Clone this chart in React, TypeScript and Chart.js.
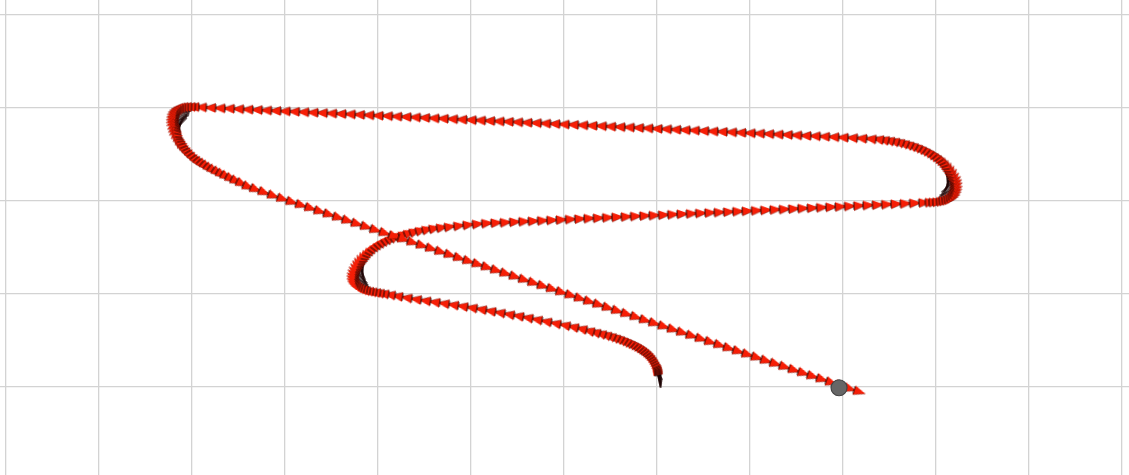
import React, { useEffect, useRef } from "react";
import { Chart, registerables } from "chart.js";

Chart.register(...registerables);

// Path poses in metres (odom frame), in time order (arrow-head centres).
const startCurve: number[][] = [
  [0, 0.19], [-0.002, 0.2], [-0.004, 0.21], [-0.007, 0.22], [-0.01, 0.23], [-0.014, 0.24], [-0.018, 0.25],
  [-0.026, 0.262], [-0.036, 0.274], [-0.048, 0.297], [-0.062, 0.319],
  [-0.078, 0.34], [-0.096, 0.36], [-0.116, 0.379], [-0.138, 0.397], [-0.162, 0.414], [-0.188, 0.43],
  [-0.216, 0.445], [-0.246, 0.46], [-0.278, 0.474], [-0.312, 0.488], [-0.348, 0.501], [-0.386, 0.514],
  [-0.426, 0.527], [-0.468, 0.539], [-0.512, 0.551], [-0.56, 0.563], [-0.615, 0.576], [-0.675, 0.59],
  [-0.74, 0.605],
];

const bottomRun: number[][] = [
  [-0.82, 0.626], [-0.91, 0.646], [-1.0, 0.665], [-1.1, 0.684], [-1.2, 0.705], [-1.3, 0.725], [-1.4, 0.745],
  [-1.5, 0.764], [-1.6, 0.781], [-1.7, 0.799], [-1.8, 0.817], [-1.9, 0.835], [-2.0, 0.852], [-2.1, 0.868],
  [-2.2, 0.883], [-2.3, 0.898], [-2.4, 0.913], [-2.5, 0.928], [-2.6, 0.943], [-2.7, 0.959], [-2.8, 0.977],
  [-2.88, 0.992],
];

const leftLoop: number[][] = [
  [-2.95, 1.004], [-3.0, 1.012], [-3.04, 1.019], [-3.08, 1.026], [-3.115, 1.033], [-3.15, 1.04], [-3.18, 1.05],
  [-3.21, 1.063], [-3.235, 1.078], [-3.255, 1.097], [-3.27, 1.118], [-3.279, 1.142], [-3.283, 1.168],
  [-3.282, 1.195], [-3.277, 1.222], [-3.268, 1.25], [-3.257, 1.278], [-3.243, 1.306], [-3.227, 1.333],
  [-3.208, 1.36], [-3.186, 1.386], [-3.162, 1.41], [-3.136, 1.436], [-3.107, 1.462], [-3.076, 1.485],
  [-3.043, 1.508], [-3.008, 1.53], [-2.972, 1.55], [-2.934, 1.569], [-2.894, 1.587], [-2.852, 1.604],
  [-2.808, 1.62], [-2.76, 1.635], [-2.71, 1.649], [-2.655, 1.662], [-2.595, 1.675], [-2.53, 1.687],
  [-2.46, 1.698], [-2.385, 1.708], [-2.305, 1.717],
];

const middleRun: number[][] = [
  [-2.22, 1.725], [-2.12, 1.735], [-2.02, 1.745], [-1.92, 1.754], [-1.82, 1.762], [-1.72, 1.767], [-1.62, 1.771],
  [-1.52, 1.776], [-1.42, 1.781], [-1.32, 1.785], [-1.22, 1.79], [-1.12, 1.795], [-1.02, 1.799], [-0.92, 1.804],
  [-0.82, 1.809], [-0.72, 1.814], [-0.62, 1.818], [-0.52, 1.823], [-0.42, 1.828], [-0.32, 1.832], [-0.22, 1.837],
  [-0.12, 1.842], [-0.02, 1.846], [0.08, 1.851], [0.18, 1.856], [0.28, 1.861], [0.38, 1.865], [0.48, 1.87],
  [0.58, 1.875], [0.68, 1.879], [0.78, 1.884], [0.88, 1.889], [0.98, 1.893], [1.08, 1.898], [1.18, 1.903],
  [1.28, 1.908], [1.38, 1.912], [1.48, 1.917], [1.58, 1.922], [1.68, 1.926], [1.78, 1.931], [1.88, 1.936],
  [1.98, 1.94], [2.08, 1.945], [2.18, 1.95], [2.28, 1.955], [2.38, 1.959], [2.48, 1.964], [2.58, 1.969],
  [2.68, 1.973], [2.78, 1.978], [2.88, 1.983],
];

const rightLoop: number[][] = [
  [2.95, 1.986], [2.99, 1.988], [3.03, 1.991], [3.07, 1.996], [3.1, 2.002], [3.13, 2.01], [3.155, 2.021],
  [3.178, 2.036], [3.197, 2.056], [3.211, 2.08], [3.221, 2.107], [3.226, 2.136], [3.228, 2.166], [3.225, 2.196],
  [3.217, 2.226], [3.205, 2.255], [3.189, 2.29], [3.17, 2.32], [3.148, 2.35], [3.124, 2.378], [3.098, 2.405],
  [3.07, 2.432], [3.04, 2.456], [3.008, 2.478], [2.974, 2.498], [2.938, 2.518], [2.9, 2.538], [2.86, 2.556],
  [2.82, 2.572], [2.778, 2.587], [2.734, 2.6], [2.688, 2.613], [2.64, 2.625], [2.59, 2.636], [2.538, 2.645],
  [2.484, 2.653], [2.428, 2.659], [2.37, 2.664],
];

const topRun: number[][] = [
  [2.29, 2.668], [2.19, 2.673], [2.09, 2.678], [1.99, 2.682], [1.89, 2.687], [1.79, 2.692], [1.69, 2.697],
  [1.59, 2.701], [1.49, 2.706], [1.39, 2.711], [1.29, 2.715], [1.19, 2.72], [1.09, 2.725], [0.99, 2.729],
  [0.89, 2.734], [0.79, 2.739], [0.69, 2.744], [0.59, 2.748], [0.49, 2.753], [0.39, 2.758], [0.29, 2.762],
  [0.19, 2.767], [0.09, 2.772], [-0.01, 2.776], [-0.11, 2.781], [-0.21, 2.786], [-0.31, 2.791], [-0.41, 2.795],
  [-0.51, 2.8], [-0.61, 2.805], [-0.71, 2.809], [-0.81, 2.814], [-0.91, 2.819], [-1.01, 2.823], [-1.11, 2.828],
  [-1.21, 2.833], [-1.31, 2.838], [-1.41, 2.842], [-1.51, 2.847], [-1.61, 2.852], [-1.71, 2.856], [-1.81, 2.861],
  [-1.91, 2.866], [-2.01, 2.87], [-2.11, 2.875], [-2.21, 2.88], [-2.31, 2.885], [-2.41, 2.889], [-2.51, 2.894],
  [-2.61, 2.899], [-2.71, 2.903], [-2.81, 2.908], [-2.91, 2.913], [-3.01, 2.917], [-3.11, 2.922], [-3.21, 2.927],
  [-3.31, 2.932], [-3.41, 2.936], [-3.51, 2.941], [-3.61, 2.946], [-3.71, 2.95], [-3.81, 2.955], [-3.91, 2.96],
  [-4.01, 2.964], [-4.11, 2.969], [-4.21, 2.974], [-4.31, 2.979], [-4.41, 2.983], [-4.51, 2.988], [-4.61, 2.993],
  [-4.71, 2.997], [-4.81, 3.002], [-4.91, 3.007], [-4.99, 3.011],
];

const topLeftLoop: number[][] = [
  [-5.03, 3.012], [-5.07, 3.012], [-5.105, 3.01], [-5.135, 3.004], [-5.16, 2.993], [-5.18, 2.978], [-5.196, 2.96],
  [-5.208, 2.938], [-5.215, 2.914], [-5.219, 2.888], [-5.22, 2.862], [-5.218, 2.834], [-5.214, 2.805],
  [-5.208, 2.776], [-5.2, 2.747], [-5.19, 2.718], [-5.178, 2.69], [-5.164, 2.656], [-5.148, 2.622], [-5.13, 2.6],
  [-5.11, 2.576], [-5.088, 2.55], [-5.064, 2.521], [-5.038, 2.497], [-5.01, 2.474], [-4.98, 2.449],
  [-4.949, 2.423], [-4.915, 2.404], [-4.88, 2.385], [-4.845, 2.366], [-4.806, 2.344], [-4.765, 2.325],
  [-4.72, 2.304], [-4.675, 2.283], [-4.627, 2.261], [-4.575, 2.237], [-4.52, 2.212], [-4.46, 2.185],
  [-4.39, 2.15], [-4.31, 2.122], [-4.22, 2.09],
];

const diagonalRun: number[][] = [
  [-4.12, 2.054], [-4.02, 2.021], [-3.92, 1.987], [-3.82, 1.954], [-3.72, 1.921], [-3.62, 1.887], [-3.52, 1.854],
  [-3.42, 1.82], [-3.32, 1.787], [-3.22, 1.753], [-3.12, 1.72], [-3.02, 1.686], [-2.92, 1.653], [-2.82, 1.619],
  [-2.72, 1.586], [-2.62, 1.553], [-2.52, 1.519], [-2.42, 1.486], [-2.32, 1.452], [-2.22, 1.419], [-2.12, 1.385],
  [-2.02, 1.352], [-1.92, 1.318], [-1.82, 1.285], [-1.72, 1.252], [-1.62, 1.218], [-1.52, 1.185], [-1.42, 1.151],
  [-1.32, 1.118], [-1.22, 1.084], [-1.12, 1.051], [-1.02, 1.017], [-0.92, 0.984], [-0.82, 0.95], [-0.72, 0.917],
  [-0.62, 0.884], [-0.52, 0.85], [-0.42, 0.817], [-0.32, 0.783], [-0.22, 0.75], [-0.12, 0.716], [-0.02, 0.683],
  [0.08, 0.649], [0.18, 0.616], [0.28, 0.583], [0.38, 0.549], [0.48, 0.516], [0.58, 0.482], [0.68, 0.449],
  [0.78, 0.415], [0.88, 0.382], [0.98, 0.348], [1.08, 0.315], [1.18, 0.281], [1.28, 0.248], [1.38, 0.215],
  [1.48, 0.181], [1.58, 0.148], [1.68, 0.114], [1.78, 0.081], [1.88, 0.047], [1.98, 0.014], [2.08, -0.02],
  [2.18, -0.053],
];

const robotX = [1.957];
const robotY = [-0.008];

// Grid (1 m cells) and view window in metres
const xGrid = [-7, -6, -5, -4, -3, -2, -1, 0, 1, 2, 3, 4, 5];
const yGrid = [-1, 0, 1, 2, 3, 4];
const viewX = [-7.065, 5.075];
const viewY = [-0.946, 4.161];
const headingLag = 0.45; // metres of path the arrow heading trails behind

function makeHead(): HTMLCanvasElement {
  const c = document.createElement("canvas");
  c.width = 22;
  c.height = 22;
  const g = c.getContext("2d")!;
  g.beginPath();
  g.moveTo(17, 11);
  g.lineTo(5, 6.2);
  g.lineTo(5, 15.8);
  g.closePath();
  g.fillStyle = "rgb(246,30,6)";
  g.fill();
  g.beginPath();
  g.moveTo(17, 11);
  g.lineTo(5, 15.8);
  g.strokeStyle = "rgba(110,10,0,0.55)";
  g.lineWidth = 0.8;
  g.stroke();
  g.beginPath();
  g.moveTo(5, 7.2);
  g.lineTo(5, 14.8);
  g.strokeStyle = "rgba(15,0,0,0.85)";
  g.lineWidth = 1.1;
  g.stroke();
  return c;
}

function makeShaft(): HTMLCanvasElement {
  const c = document.createElement("canvas");
  c.width = 44;
  c.height = 8;
  const g = c.getContext("2d")!;
  g.beginPath();
  g.moveTo(3, 4);
  g.lineTo(17, 4);
  g.strokeStyle = "rgba(25,0,0,0.9)";
  g.lineWidth = 1.4;
  g.stroke();
  return c;
}

export default function App() {
  const ref = useRef<HTMLCanvasElement | null>(null);

  useEffect(() => {
    if (!ref.current) return;
    const path = [
      ...startCurve, ...bottomRun, ...leftLoop, ...middleRun, ...rightLoop,
      ...topRun, ...topLeftLoop, ...diagonalRun,
    ];
    const pts = path.map((p) => ({ x: p[0], y: p[1] }));
    const n = pts.length;
    // heading follows the travel direction, trailing it a little in tight turns
    const rot = pts.map((_, i) => {
      let j = i;
      let d = 0;
      while (j > 0 && d < headingLag) {
        d += Math.hypot(pts[j].x - pts[j - 1].x, pts[j].y - pts[j - 1].y);
        j--;
      }
      const a = pts[j];
      const b = pts[Math.min(i + 1, n - 1)];
      const ang = Math.atan2(b.y - a.y, b.x - a.x);
      return (-ang * 180) / Math.PI;
    });
    const head = makeHead();
    const shaft = makeShaft();
    const gridColor = "#d3d3d3";
    const chart = new Chart(ref.current, {
      type: "scatter",
      data: {
        datasets: [
          {
            data: robotX.map((x, i) => ({ x, y: robotY[i] })),
            order: 0,
            showLine: false,
            pointStyle: "circle",
            pointRadius: 8,
            pointBackgroundColor: "#666666",
            pointBorderColor: "#444444",
            pointBorderWidth: 1.2,
          },
          {
            data: pts,
            order: 1,
            showLine: false,
            pointStyle: head as any,
            pointRotation: rot,
            pointRadius: 6,
          } as any,
          {
            data: pts,
            order: 2,
            showLine: false,
            pointStyle: shaft as any,
            pointRotation: rot,
            pointRadius: 6,
          } as any,
        ],
      },
      options: {
        responsive: false,
        animation: false,
        devicePixelRatio: 1,
        events: [],
        layout: { padding: 0, autoPadding: false },
        plugins: { legend: { display: false }, tooltip: { enabled: false } },
        scales: {
          x: {
            type: "linear",
            min: viewX[0],
            max: viewX[1],
            afterBuildTicks: (axis: any) => {
              axis.ticks = xGrid.map((v) => ({ value: v }));
            },
            afterFit: (axis: any) => {
              axis.height = 0;
            },
            ticks: { display: false, padding: 0 },
            grid: { color: gridColor, lineWidth: 1.3, drawTicks: false },
            border: { display: false },
          },
          y: {
            type: "linear",
            min: viewY[0],
            max: viewY[1],
            afterBuildTicks: (axis: any) => {
              axis.ticks = yGrid.map((v) => ({ value: v }));
            },
            afterFit: (axis: any) => {
              axis.width = 0;
            },
            ticks: { display: false, padding: 0 },
            grid: { color: gridColor, lineWidth: 1.3, drawTicks: false },
            border: { display: false },
          },
        },
      },
    });
    return () => chart.destroy();
  }, []);

  return (
    <div style={{ position: "fixed", left: 0, top: 0, width: 1129, height: 475, background: "#fff" }}>
      <canvas ref={ref} width={1129} height={475} style={{ display: "block" }} />
    </div>
  );
}
